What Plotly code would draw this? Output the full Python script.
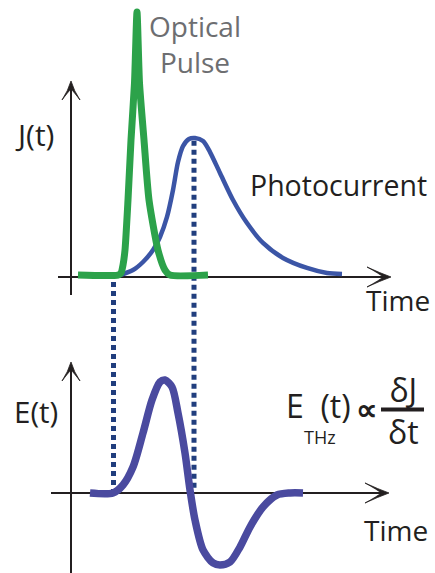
import plotly.graph_objects as go

W, H = 435, 573

# ---- data (time in arbitrary units, amplitudes normalised) ----
pulse_t = [0.7, 4.7, 5.0, 5.2, 5.4, 5.7, 6.0, 6.35, 6.6, 6.85, 7.3, 7.8, 8.7, 9.4, 9.9, 13.7]
pulse_amp = [0.014, 0.014, 0.029, 0.086, 0.194, 0.554, 0.986, 1.396, 1.906, 1.396, 0.986,
             0.554, 0.194, 0.050, 0.014, 0.014]

current_t = [4.9, 6.2, 7.2, 8.2, 8.9, 9.6, 10.2, 10.7, 11.2, 11.8, 12.4, 13.2, 13.9, 14.9,
             16.2, 17.6, 19.2, 21.2, 23.6, 25.6, 27.1]
current_amp = [0.014, 0.050, 0.108, 0.194, 0.288, 0.432, 0.626, 0.827, 0.942, 0.993, 1.0,
               0.978, 0.899, 0.748, 0.554, 0.388, 0.245, 0.137, 0.065, 0.029, 0.022]

field_t = [1.9, 4.2, 5.2, 6.2, 7.2, 8.1, 8.9, 9.4, 10.1, 10.7, 11.4, 11.9, 12.4, 13.2, 14.2,
           14.9, 15.9, 16.9, 17.9, 19.2, 20.6, 21.9, 23.2]
field_amp = [0, 0, 0.071, 0.230, 0.531, 0.823, 0.982, 1.0, 0.938, 0.708, 0.354, 0.027,
             -0.239, -0.504, -0.619, -0.637, -0.611, -0.478, -0.301, -0.124, -0.018, 0, 0]

marker_times = [4.25, 12.3]  # pulse onset, photocurrent peak

# ---- page geometry (pixels) ----
T0_PX, T_UNIT = 71, 10          # time origin and pixels per time unit
J0_PX, J_UNIT = 277, 139        # J(t) baseline and pixels per unit
E0_PX, E_UNIT = 493, 113        # E(t) baseline and pixels per unit

INK = "#231f20"
GREEN = "#2ca24a"
BLUE = "#3b55a6"
PURPLE = "#4a4a9f"
NAVY = "#213e7e"
GRAY = "#6d6e71"
FONT = "Open Sans"


def px(x):
    return x / W


def py(y):
    return 1 - y / H


def j_of_px(y):
    return (J0_PX - y) / J_UNIT


fig = go.Figure()

# dotted guides linking the two panels (drawn on the J(t) scale)
guide_tops = [j_of_px(J0_PX + 5), max(current_amp) - 0.02]
guide_bottom = j_of_px(E0_PX - 3)
for t, top in zip(marker_times, guide_tops):
    fig.add_trace(go.Scatter(x=[t, t], y=[top, guide_bottom], mode="lines", yaxis="y",
                             line=dict(color=NAVY, width=5, dash="5px,4px"),
                             hoverinfo="skip"))

fig.add_trace(go.Scatter(x=current_t, y=current_amp, mode="lines", yaxis="y",
                         line=dict(color=BLUE, width=4.5, shape="spline", smoothing=0.8),
                         hoverinfo="skip"))
fig.add_trace(go.Scatter(x=pulse_t, y=pulse_amp, mode="lines", yaxis="y",
                         line=dict(color=GREEN, width=7, shape="spline", smoothing=0.6),
                         hoverinfo="skip"))
fig.add_trace(go.Scatter(x=field_t, y=field_amp, mode="lines", yaxis="y2",
                         line=dict(color=PURPLE, width=7.5, shape="spline", smoothing=0.8),
                         hoverinfo="skip"))

shapes = []


def line(x0, y0, x1, y1, color=INK, width=2, layer="below"):
    shapes.append(dict(type="line", xref="paper", yref="paper",
                       x0=px(x0), y0=py(y0), x1=px(x1), y1=py(y1), layer=layer,
                       line=dict(color=color, width=width)))


def path(points_cmds):
    s = ""
    for cmd, pts in points_cmds:
        s += cmd + " " + " ".join(f"{px(a):.5f},{py(b):.5f}" for a, b in pts) + " "
    shapes.append(dict(type="path", xref="paper", yref="paper", path=s + "Z",
                       fillcolor=INK, line=dict(color=INK, width=0.8), layer="below"))


def arrow_up(x, y):
    path([("M", [(x - 9, y + 19)]), ("Q", [(x - 3, y + 10), (x, y)]),
          ("Q", [(x + 3, y + 10), (x + 9, y + 19)]),
          ("Q", [(x + 3, y + 11), (x, y + 8)]), ("Q", [(x - 3, y + 11), (x - 9, y + 19)])])


def arrow_right(x, y):
    path([("M", [(x - 24, y - 10)]), ("Q", [(x - 11, y - 4), (x, y)]),
          ("Q", [(x - 11, y + 4), (x - 24, y + 10)]),
          ("Q", [(x - 11, y + 3), (x - 8, y)]), ("Q", [(x - 11, y - 3), (x - 24, y - 10)])])


# axes of the J(t) panel
line(71, 84, 71, 295)
line(58, J0_PX, 388, J0_PX)
arrow_up(71, 81)
arrow_right(391, J0_PX)

# axes of the E(t) panel
line(71, 365, 71, H)
line(51, E0_PX, 386, E0_PX)
arrow_up(71, 362)
arrow_right(389, E0_PX)

# fraction bar of dJ/dt
line(381, 409.5, 424, 409.5, width=4, layer="above")

annotations = []


def text(s, x, y, size=28, color=INK, xanchor="center", bold=False):
    annotations.append(dict(text=f"<b>{s}</b>" if bold else s, x=px(x), y=py(y),
                            xref="paper", yref="paper", showarrow=False,
                            xanchor=xanchor, yanchor="middle", align="center",
                            font=dict(family=FONT, size=size, color=color)))


text("Optical<br>Pulse", 195, 44, size=28, color=GRAY)
text("J(t)", 34, 134, size=30)
text("Photocurrent", 338, 185, size=28.5)
text("Time", 398, 300)
text("E(t)", 36, 411, size=29.5)
text("Time", 396, 530)
text("E\u00a0\u00a0(t)", 284, 405, size=32, xanchor="left")
text("THz", 302, 437, size=18, xanchor="left")
text("∝", 366, 408, size=30, bold=True)
text("δJ<br>δt", 403, 410, size=32)

x_lo = (0 - T0_PX) / T_UNIT
x_hi = (W - T0_PX) / T_UNIT
fig.update_layout(
    width=W, height=H,
    margin=dict(l=0, r=0, t=0, b=0),
    paper_bgcolor="white", plot_bgcolor="white",
    showlegend=False,
    xaxis=dict(range=[x_lo, x_hi], visible=False, domain=[0, 1]),
    yaxis=dict(range=[j_of_px(H), j_of_px(0)], visible=False, domain=[0, 1]),
    yaxis2=dict(range=[(E0_PX - H) / E_UNIT, E0_PX / E_UNIT], visible=False,
                overlaying="y", domain=[0, 1]),
    shapes=shapes,
    annotations=annotations,
)

fig.write_html("out.html")
